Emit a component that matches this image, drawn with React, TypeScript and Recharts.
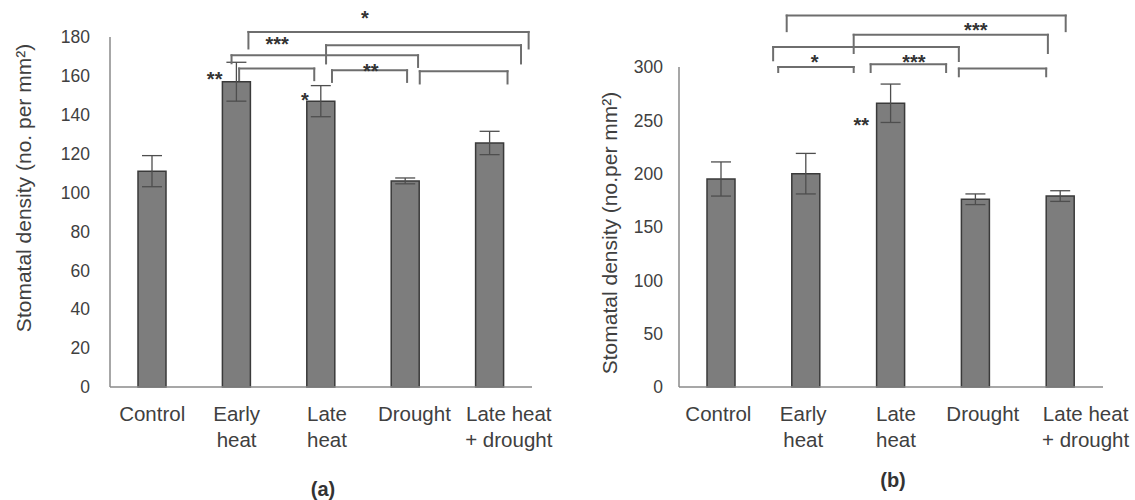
import { BarChart, Bar, XAxis, YAxis, ErrorBar, ReferenceLine, ReferenceDot } from 'recharts';

const treatments = ['Control', 'Early heat', 'Late heat', 'Drought', 'Late heat + drought'];
const tickText: Record<string, string[]> = {
  Control: ['Control'],
  'Early heat': ['Early', 'heat'],
  'Late heat': ['Late', 'heat'],
  Drought: ['Drought'],
  'Late heat + drought': ['Late heat', '+ drought'],
};

// (a) stomatal density, mean and standard error
const densityA = [111, 157, 147, 106, 125.5];
const errorA = [8, 10, 8, 1.5, 6];
const ticksA = [0, 20, 40, 60, 80, 100, 120, 140, 160, 180];

// (b) stomatal density, mean and standard error
const densityB = [195, 200, 266, 176, 179];
const errorB = [16, 19, 18, 5, 5];
const ticksB = [0, 50, 100, 150, 200, 250, 300];

// significance brackets, x in category units (0..5), y in axis units
type Bracket = { from: number; to: number; top: number; left: number; right: number };
type Mark = { x: number; y: number; text: string };

const bracketsA: Bracket[] = [
  { from: 1.53, to: 2.42, top: 163.8, left: 157.8, right: 157.8 },
  { from: 2.63, to: 3.52, top: 162.9, left: 156.9, right: 156.9 },
  { from: 3.67, to: 4.71, top: 162.4, left: 156.1, right: 156.1 },
  { from: 1.44, to: 3.65, top: 170.6, left: 166.5, right: 164.6 },
  { from: 2.56, to: 4.87, top: 175.8, left: 166.4, right: 166.4 },
  { from: 1.64, to: 4.96, top: 182.6, left: 174.1, right: 174.1 },
];
const marksA: Mark[] = [
  { x: 1.24, y: 160.9, text: '**' },
  { x: 2.31, y: 150, text: '*' },
  { x: 3.09, y: 165, text: '**' },
  { x: 1.98, y: 178.7, text: '***' },
  { x: 3.02, y: 192.1, text: '*' },
];

const bracketsB: Bracket[] = [
  { from: 1.17, to: 2.06, top: 300, left: 295.3, right: 295.3 },
  { from: 2.26, to: 3.15, top: 302.5, left: 295.3, right: 295.3 },
  { from: 3.3, to: 4.33, top: 298.5, left: 291.3, right: 291.3 },
  { from: 1.11, to: 3.3, top: 318.7, left: 306.3, right: 305.6 },
  { from: 2.06, to: 4.35, top: 330.2, left: 313.1, right: 313.1 },
  { from: 1.27, to: 4.56, top: 348.2, left: 333.6, right: 333.6 },
];
const marksB: Mark[] = [
  { x: 2.15, y: 249.6, text: '**' },
  { x: 1.6, y: 308.6, text: '*' },
  { x: 2.77, y: 308.6, text: '***' },
  { x: 3.5, y: 338.9, text: '***' },
];

const FONT = '"Liberation Sans", Arial, sans-serif';
const TEXT = '#404040';
const LINE = '#6e6e6e';
const centers = treatments.map((_, i) => i + 0.5);

interface PanelProps {
  values: number[];
  errors: number[];
  ticks: number[];
  brackets: Bracket[];
  marks: Mark[];
  yLabel: string;
  left: number;
  width: number;
  top: number;
  right: number;
  axisWidth: number;
  tickGap: number;
  labelDx: number;
  labelDy: number;
  tickShift: number[];
}

function Panel(p: PanelProps) {
  const data = treatments.map((name, i) => ({ pos: centers[i], name, density: p.values[i], err: p.errors[i] }));
  const max = p.ticks[p.ticks.length - 1];

  const renderTick = (t: any) => {
    const i = centers.indexOf(t.payload.value);
    const name = treatments[i];
    const x = t.x + p.tickShift[i];
    return (
      <text x={x} y={t.y + 34} textAnchor="middle" fill={TEXT} fontSize={20.5} fontFamily={FONT}>
        {tickText[name].map((line, k) => (
          <tspan key={k} x={x} dy={k === 0 ? 0 : 26}>{line}</tspan>
        ))}
      </text>
    );
  };

  const renderYLabel = (l: any) => {
    const vb = l.viewBox;
    const cx = vb.x + vb.width / 2 + p.labelDx;
    const cy = vb.y + vb.height / 2 + p.labelDy;
    return (
      <text x={cx} y={cy} transform={`rotate(-90 ${cx} ${cy})`} textAnchor="middle"
        dominantBaseline="central" fill={TEXT} fontSize={21} fontFamily={FONT}>
        {p.yLabel}
      </text>
    );
  };

  const seg = (key: string, x1: number, y1: number, x2: number, y2: number) => (
    <ReferenceLine key={key} ifOverflow="visible"
      segment={[{ x: x1, y: y1 }, { x: x2, y: y2 }]}
      stroke={LINE} strokeWidth={2} strokeLinecap="square" />
  );

  return (
    <div style={{ position: 'absolute', left: p.left, top: 0 }}>
      <BarChart width={p.width} height={500} data={data}
        margin={{ top: p.top, right: p.right, bottom: 0, left: 0 }}>
        <XAxis dataKey="pos" type="number" domain={[0, 5]} ticks={centers} allowDataOverflow
          height={500 - 387}
          axisLine={{ stroke: '#8a8a8a', strokeWidth: 1.5 }} tickLine={false}
          tickSize={0} tickMargin={0} tick={renderTick} interval={0} />
        <YAxis domain={[0, max]} ticks={p.ticks} width={p.axisWidth}
          axisLine={{ stroke: '#8a8a8a', strokeWidth: 1.5 }} tickLine={false}
          tickSize={0} tickMargin={p.tickGap}
          tick={{ fill: TEXT, fontSize: 17.5, fontFamily: FONT }}
          label={renderYLabel} />
        <Bar dataKey="density" barSize={28} fill="#7d7d7d"
          stroke="#3a3a3a" strokeWidth={1.5} isAnimationActive={false}>
          <ErrorBar dataKey="err" width={10} stroke="#4e4e4e" strokeWidth={1.3} />
        </Bar>
        {p.brackets.flatMap((b, i) => [
          seg(`t${i}`, b.from, b.top, b.to, b.top),
          seg(`l${i}`, b.from, b.top, b.from, b.left),
          seg(`r${i}`, b.to, b.top, b.to, b.right),
        ])}
        {p.marks.map((m, i) => (
          <ReferenceDot key={`m${i}`} x={m.x} y={m.y} r={0} ifOverflow="visible"
            shape={(s: any) => (
              <text x={s.cx} y={s.cy} dy="0.58em" textAnchor="middle" fill="#333"
                fontSize={20} fontWeight="bold" fontFamily={FONT}>{m.text}</text>
            )} />
        ))}
      </BarChart>
    </div>
  );
}

export default function App() {
  return (
    <div style={{ position: 'absolute', left: 0, top: 0, width: 1135, height: 500, background: '#fff', overflow: 'hidden' }}>
      <Panel values={densityA} errors={errorA} ticks={ticksA} brackets={bracketsA} marks={marksA}
        yLabel="Stomatal density (no. per mm²)" left={0} width={560} top={37} right={28}
        axisWidth={110} tickGap={20} labelDx={-32} labelDy={-24} tickShift={[0, 0, 6, 9, 19]} />
      <Panel values={densityB} errors={errorB} ticks={ticksB} brackets={bracketsB} marks={marksB}
        yLabel="Stomatal density (no.per mm²)" left={570} width={565} top={67} right={32}
        axisWidth={109} tickGap={16} labelDx={-15} labelDy={6} tickShift={[-3, -3, 5, 7, 25]} />
      <div style={{ position: 'absolute', left: 283, top: 478, width: 80, textAlign: 'center', fontFamily: FONT, fontWeight: 'bold', fontSize: 20, color: '#333' }}>(a)</div>
      <div style={{ position: 'absolute', left: 853, top: 469, width: 80, textAlign: 'center', fontFamily: FONT, fontWeight: 'bold', fontSize: 20, color: '#333' }}>(b)</div>
    </div>
  );
}
